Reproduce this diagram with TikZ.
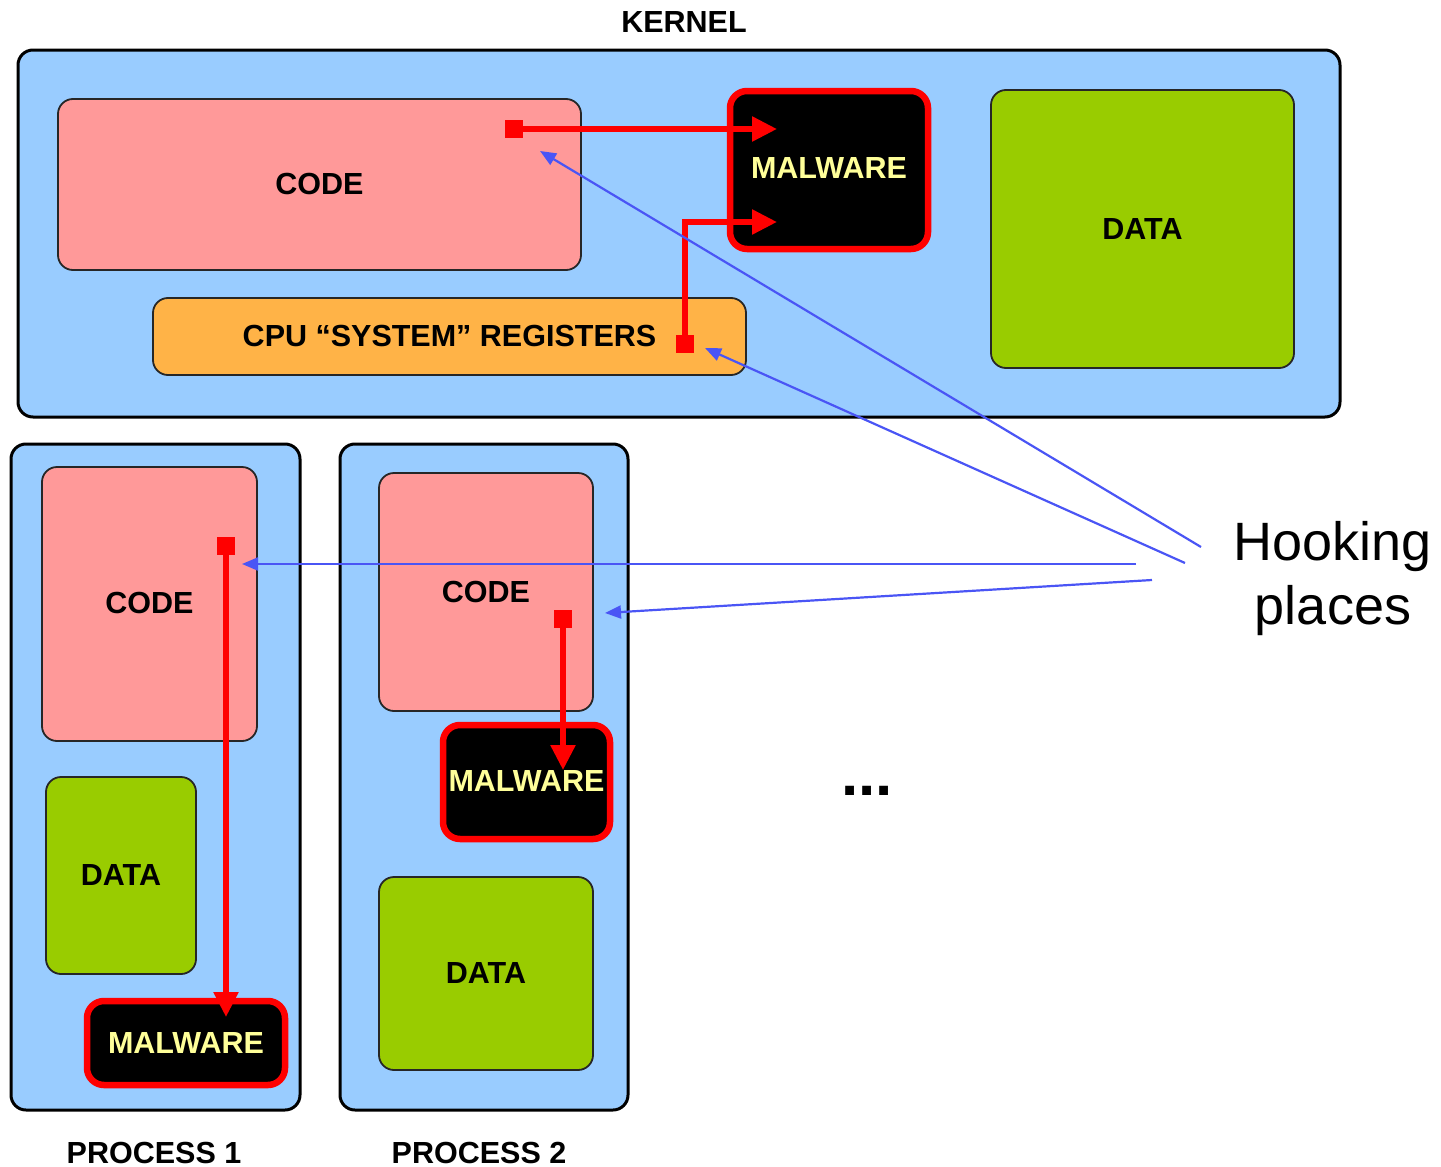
\documentclass[tikz,border=0pt]{standalone}
\usepackage{fontspec}
\setmainfont{Liberation Sans}
\usetikzlibrary{arrows.meta}
\definecolor{kblue}{HTML}{99CCFF}
\definecolor{codepink}{HTML}{FF9999}
\definecolor{datagreen}{HTML}{99CC00}
\definecolor{regorange}{HTML}{FFB347}
\definecolor{malyellow}{HTML}{FFFF99}
\definecolor{hookblue}{HTML}{4A55F5}
\tikzset{
  lab/.style={font=\bfseries\fontsize{30.5}{34}\selectfont},
  container/.style={draw=black, line width=3, fill=kblue, rounded corners=15, inner sep=0},
  inner/.style={draw=black!85, line width=1.8, rounded corners=15, inner sep=0, lab},
  codebox/.style={inner, fill=codepink},
  databox/.style={inner, fill=datagreen},
  regbox/.style={inner, fill=regorange},
  malbox/.style={draw=red, line width=6.5, fill=black, text=malyellow, rounded corners=17, inner sep=0, lab},
  hookpt/.style={fill=red, minimum size=18, inner sep=0, outer sep=0},
  redarrow/.style={draw=red, line width=5.5, -{Triangle[length=25,width=24]}},
  bluearrow/.style={draw=hookblue, line width=2.2, -{Triangle[length=16,width=13]}},
}
\begin{document}
\begin{tikzpicture}[x=1pt,y=-1pt]
\useasboundingbox (0,0) rectangle (1441,1167);

% Kernel
\node[lab] (kernlab) at (684,22) {KERNEL};
\node[container, minimum width=1322, minimum height=367] (kernel) at (679,233.5) {};
\node[codebox, minimum width=523, minimum height=171] (kcode) at (319.5,184.5) {\raisebox{2pt}{CODE}};
\node[malbox, minimum width=198, minimum height=158] (kmal) at (829,170) {\raisebox{4pt}{MALWARE}};
\node[databox, minimum width=303, minimum height=278] (kdata) at (1142.5,229) {DATA};
\node[regbox, minimum width=593, minimum height=77] (kreg) at (449.5,336.5) {\raisebox{2pt}{CPU “SYSTEM” REGISTERS}};

% Process 1
\node[container, minimum width=289, minimum height=666] (p1) at (155.5,777) {};
\node[codebox, minimum width=215, minimum height=274] (p1code) at (149.5,604) {\raisebox{3pt}{CODE}};
\node[databox, minimum width=150, minimum height=197] (p1data) at (121,875.5) {\raisebox{2pt}{DATA}};
\node[malbox, minimum width=198, minimum height=84] (p1mal) at (186,1043) {MALWARE};
\node[lab] (p1lab) at (154,1153) {PROCESS 1};

% Process 2
\node[container, minimum width=288, minimum height=666] (p2) at (484,777) {};
\node[codebox, minimum width=214, minimum height=238] (p2code) at (486,592) {CODE};
\node[malbox, minimum width=167, minimum height=114] (p2mal) at (526.5,782) {\raisebox{2pt}{MALWARE}};
\node[databox, minimum width=214, minimum height=193] (p2data) at (486,973.5) {\raisebox{2pt}{DATA}};
\node[lab] (p2lab) at (479,1153) {PROCESS 2};

% ellipsis
\node[font=\bfseries\fontsize{62}{62}\selectfont] (dots) at (867,791) {...};

% Hooking places
\node[font=\fontsize{54}{64}\selectfont, align=center] (hooklab) at (1333,579) {Hooking\\places};

% hook points
\node[hookpt] (h1) at (514,129) {};
\node[hookpt] (h2) at (685,344) {};
\node[hookpt] (h3) at (226,546) {};
\node[hookpt] (h4) at (563,619) {};

\coordinate (t1) at (777,129);
\coordinate (t2) at (777,222);
\coordinate (t3) at (226,1017);
\coordinate (t4) at (563,770);

\draw[redarrow] (h1.center) -- (t1);
\draw[redarrow] (h2.center) |- (t2);
\draw[redarrow] (h3.center) -- (t3);
\draw[redarrow] (h4.center) -- (t4);

% blue hooking arrows
\coordinate (s1) at (1201,547);
\coordinate (s2) at (1185,563);
\coordinate (s3) at (1136,564);
\coordinate (s4) at (1152,580);
\coordinate (e1) at (540,151);
\coordinate (e2) at (705,348);
\coordinate (e3) at (242,564);
\coordinate (e4) at (605,613);

\draw[bluearrow] (s1) -- (e1);
\draw[bluearrow] (s2) -- (e2);
\draw[bluearrow] (s3) -- (e3);
\draw[bluearrow] (s4) -- (e4);
\end{tikzpicture}
\end{document}
